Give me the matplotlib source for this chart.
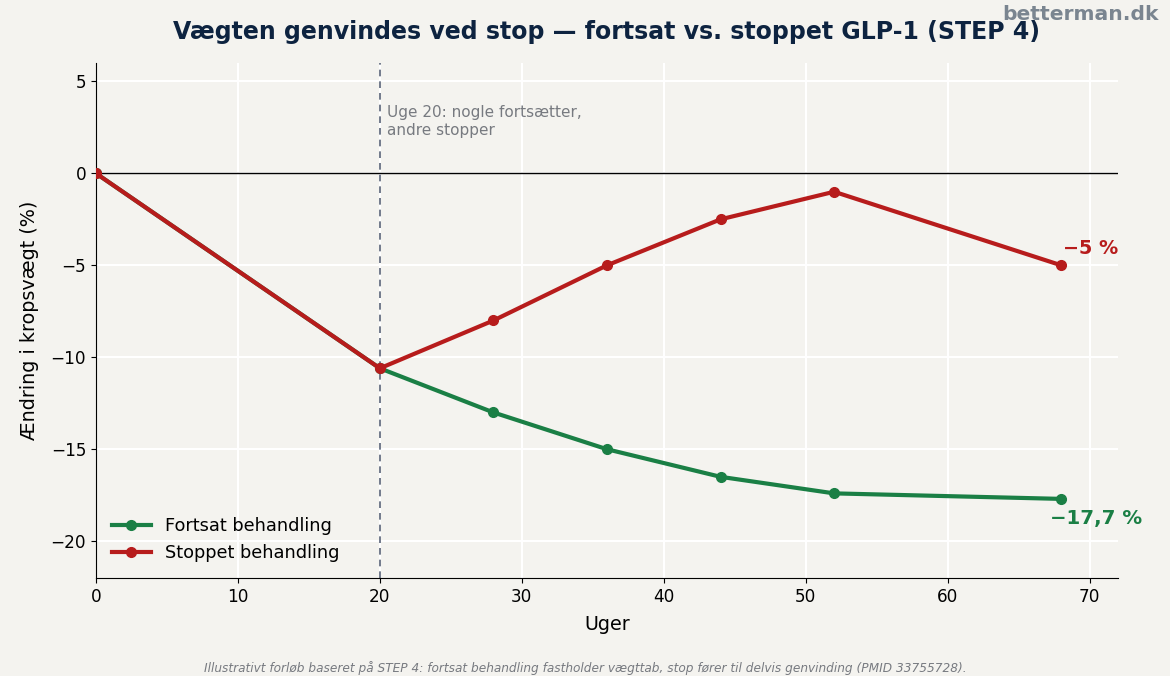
import matplotlib
matplotlib.use("Agg")
import matplotlib.pyplot as plt

plt.rcParams["font.family"] = ["DejaVu Sans"]

weeks = [0, 20, 28, 36, 44, 52, 68]
continued = [0, -10.6, -13.0, -15.0, -16.5, -17.4, -17.7]
stopped = [0, -10.6, -8.0, -5.0, -2.5, -1.0, -5.0]
xticks = [0, 10, 20, 30, 40, 50, 60, 70]
yticks = [5, 0, -5, -10, -15, -20]

BG = "#f4f3ef"
GREEN = "#1a7f45"
RED = "#b71c1c"

fig = plt.figure(figsize=(11.7, 6.76), dpi=100, facecolor=BG)
ax = fig.add_axes([0.082, 0.145, 0.8736, 0.7618])
ax.set_facecolor(BG)

ax.grid(True, color="white", linewidth=1.5, zorder=0)
ax.set_axisbelow(True)
ax.axhline(0, color="black", linewidth=1.0, zorder=1)
ax.axvline(20, color="#5a6478", linewidth=1.2, linestyle=(0, (4, 3)), zorder=1)

ax.plot(weeks, continued, color=GREEN, linewidth=3, marker="o", markersize=7,
        label="Fortsat behandling", zorder=3)
ax.plot(weeks, stopped, color=RED, linewidth=3, marker="o", markersize=7,
        label="Stoppet behandling", zorder=4)

ax.text(20.5, 2.8, "Uge 20: nogle fortsætter,\nandre stopper", color="#777a80",
        fontsize=11, va="center", ha="left", linespacing=1.25)

ax.annotate("\u22125 %", xy=(weeks[-1], stopped[-1]), xytext=(1, 5),
            textcoords="offset points", color=RED, fontsize=13.8, fontweight="bold",
            ha="left", va="bottom")
ax.annotate("\u221217,7 %", xy=(weeks[-1], continued[-1]), xytext=(-8, -7),
            textcoords="offset points", color=GREEN, fontsize=14.2, fontweight="bold",
            ha="left", va="top")

ax.set_xlim(0, 72)
ax.set_ylim(-22, 6)
ax.set_xticks(xticks)
ax.set_yticks(yticks)
ax.set_yticklabels([str(v).replace("-", "\u2212") for v in yticks])
ax.tick_params(labelsize=12.2)
for s in ["top", "right"]:
    ax.spines[s].set_visible(False)
ax.set_xlabel("Uger", fontsize=13.8, labelpad=7)
ax.set_ylabel("Ændring i kropsvægt (%)", fontsize=13.8, labelpad=8)
ax.set_title("Vægten genvindes ved stop \u2014 fortsat vs. stoppet GLP-1 (STEP 4)",
             fontsize=17, fontweight="bold", color="#0d2340", pad=17)

leg = ax.legend(loc="lower left", frameon=False, fontsize=12.8, handlelength=2.2,
                bbox_to_anchor=(0.0, 0.0))

fig.text(0.99, 0.978, "betterman.dk", ha="right", va="center", fontsize=14.6,
         fontweight="bold", color="#7a8590")
fig.text(0.5, 0.012, "Illustrativt forløb baseret på STEP 4: fortsat behandling fastholder vægttab, stop fører til delvis genvinding (PMID 33755728).",
         ha="center", va="center", fontsize=8.7, style="italic", color="#777a80")

fig.savefig("out.png", dpi=100, facecolor=BG)
